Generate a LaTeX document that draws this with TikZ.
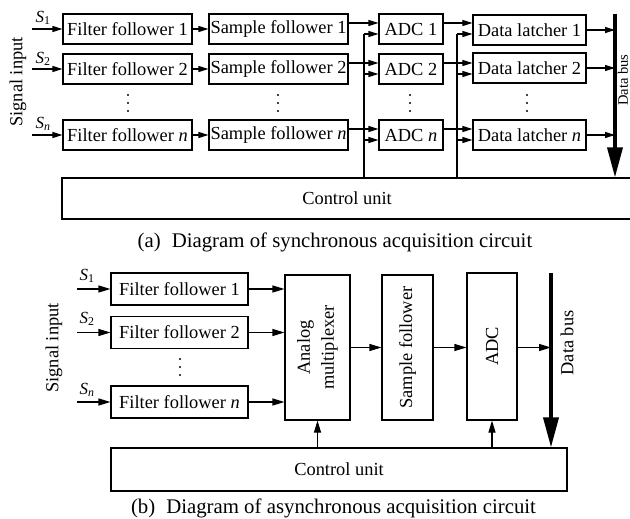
\documentclass[tikz,border=0pt]{standalone}
\usepackage{fontspec}
\setmainfont{Liberation Serif}
\usetikzlibrary{arrows.meta,calc}
\newcommand{\boxfont}{\fontsize{18.4}{24}\selectfont}
\newcommand{\busfont}{\fontsize{14.5}{18}\selectfont}
\newcommand{\capfont}{\fontsize{20.8}{24}\selectfont}
\newcommand{\sfnt}{\fontsize{17}{20}\selectfont}
\begin{document}
\begin{tikzpicture}[x=1pt,y=-1pt,
  box/.style={draw,line width=1.1pt,fill=white,inner sep=0pt,font=\boxfont},
  boxa/.style={box,minimum height=30pt},
  boxb/.style={box,minimum height=32pt},
  lbl/.style={inner sep=0pt,font=\boxfont},
  slbl/.style={inner sep=0pt,font=\sfnt},
  ln/.style={line width=1.1pt},
  arra/.style={ln,-{Triangle[length=10pt,width=6pt]}},
  arrb/.style={ln,-{Triangle[length=12pt,width=7pt]}},
  bus/.style={line width=3.6pt,-{Triangle[length=30pt,width=15pt]}},
  dot/.style={fill=black}
]
\useasboundingbox (0,0) rectangle (630,519);

% ================= (a) =================
\node[lbl,rotate=90] (siga) at (18,82) {Signal input};

\node[slbl] (s1a) at (43,18) {\textit{S}\textsubscript{1}};
\node[slbl] (s2a) at (43,59) {\textit{S}\textsubscript{2}};
\node[slbl] (sna) at (43,124) {\textit{S}\textsubscript{\textit{n}}};

\node[boxa,minimum width=129pt] (f1) at (127.5,29) {Filter follower 1};
\node[boxa,minimum width=129pt] (f2) at (127.5,69) {Filter follower 2};
\node[boxa,minimum width=129pt] (fn) at (127.5,135) {Filter follower \textit{n}};

\node[boxa,minimum width=139pt] (p1) at (278.5,29) {Sample follower 1};
\node[boxa,minimum width=139pt] (p2) at (278.5,69) {Sample follower 2};
\node[boxa,minimum width=139pt] (pn) at (278.5,135) {Sample follower \textit{n}};

\node[boxa,minimum width=64pt] (a1) at (411,29) {ADC 1};
\node[boxa,minimum width=64pt] (a2) at (411,69) {ADC 2};
\node[boxa,minimum width=64pt] (an) at (411,135) {ADC \textit{n}};

\node[boxa,minimum width=113pt] (d1) at (529.5,30) {Data latcher 1};
\node[boxa,minimum width=113pt] (d2) at (529.5,68) {Data latcher 2};
\node[boxa,minimum width=113pt] (dn) at (529.5,135) {Data latcher \textit{n}};

\node[box,minimum width=570pt,minimum height=41pt] (cua) at (347,198.5) {Control unit};

\node[inner sep=0pt,font=\busfont,rotate=90] (dba) at (623,80) {Data bus};

% dots
\foreach \x in {128,278,410,527}{
  \foreach \y in {95,103,111}{ \fill[dot] (\x,\y) circle (1.1pt); }
}

% inputs
\coordinate (i1a) at (32,29);
\coordinate (i2a) at (32,69);
\coordinate (ina) at (32,135);
\draw[arra] (i1a) -- (f1.west);
\draw[arra] (i2a) -- (f2.west);
\draw[arra] (ina) -- (fn.west);

% filter -> sample
\draw[arra] (f1) -- (p1);
\draw[arra] (f2) -- (p2);
\draw[arra] (fn) -- (pn);

% sample -> ADC (upper)
\draw[arra] ([yshift=6pt]p1.east) -- ([yshift=6pt]a1.west);
\draw[arra] ([yshift=6pt]p2.east) -- ([yshift=6pt]a2.west);
\draw[arra] ([yshift=6pt]pn.east) -- ([yshift=6pt]an.west);

% ADC -> latcher (upper)
\draw[arra] ([yshift=6pt]a1.east) -- ([yshift=6pt]a1.east -| d1.west);
\draw[arra] ([yshift=6pt]a2.east) -- ([yshift=6pt]a2.east -| d2.west);
\draw[arra] ([yshift=6pt]an.east) -- ([yshift=6pt]an.east -| dn.west);

% control lines
\coordinate (ca) at (364,34);
\coordinate (cd) at (457,34);
\draw[ln] (ca) -- (ca |- cua.north);
\draw[ln] (cd) -- (cd |- cua.north);
\path ([yshift=-5pt]a1.west) coordinate (a1in) ([yshift=-5pt]a2.west) coordinate (a2in) ([yshift=-5pt]an.west) coordinate (anin);
\draw[arra] (a1in -| ca) -- (a1in);
\draw[arra] (a2in -| ca) -- (a2in);
\draw[arra] (anin -| ca) -- (anin);
\path ([yshift=-5pt]a1.east -| d1.west) coordinate (d1in) ([yshift=-5pt]a2.east -| d2.west) coordinate (d2in) ([yshift=-5pt]an.east -| dn.west) coordinate (dnin);
\draw[arra] (d1in -| cd) -- (d1in);
\draw[arra] (d2in -| cd) -- (d2in);
\draw[arra] (dnin -| cd) -- (dnin);

% data bus (a)
\coordinate (busa) at (615,14);
\draw[arra] (d1.east) -- (d1.east -| busa);
\draw[arra] (d2.east) -- (d2.east -| busa);
\draw[arra] (dn.east) -- (dn.east -| busa);
\draw[bus] (busa) -- (busa |- cua.north);

\node[inner sep=0pt,font=\capfont] (capa) at (335,242) {(a)\hspace{11pt}Diagram of synchronous acquisition circuit};

% ================= (b) =================
\node[lbl,rotate=90] (sigb) at (54,348) {Signal input};

\node[slbl] (s1b) at (87,276) {\textit{S}\textsubscript{1}};
\node[slbl] (s2b) at (87,319) {\textit{S}\textsubscript{2}};
\node[slbl] (snb) at (87,390) {\textit{S}\textsubscript{\textit{n}}};

\node[boxb,minimum width=137pt] (g1) at (179.5,289) {Filter follower 1};
\node[boxb,minimum width=137pt] (g2) at (179.5,332.5) {Filter follower 2};
\node[boxb,minimum width=137pt] (gn) at (179.5,402) {Filter follower \textit{n}};

\foreach \y in {359,367,375}{ \fill[dot] (180,\y) circle (1.1pt); }

\node[box,minimum width=65pt,minimum height=145pt] (mux) at (317.5,347.5) {};
\node[lbl,rotate=90,align=center] (muxt) at (mux.center) {Analog\\multiplexer};
\node[box,minimum width=51pt,minimum height=145pt] (sam) at (407.5,347.5) {};
\node[lbl,rotate=90] (samt) at (sam.center) {Sample follower};
\node[box,minimum width=50pt,minimum height=147pt] (adc) at (492,346.5) {};
\node[lbl,rotate=90] (adct) at (adc.center) {ADC};

\node[box,minimum width=456pt,minimum height=43pt] (cub) at (339,469.5) {Control unit};

\node[lbl,rotate=90] (dbb) at (567,343) {Data bus};

\coordinate (i1b) at (77,289);
\coordinate (i2b) at (77,332.5);
\coordinate (inb) at (77,402);
\draw[arrb] (i1b) -- (g1.west);
\draw[arrb] (i2b) -- (g2.west);
\draw[arrb] (inb) -- (gn.west);

\draw[arrb] (g1.east) -- (g1.east -| mux.west);
\draw[arrb] (g2.east) -- (g2.east -| mux.west);
\draw[arrb] (gn.east) -- (gn.east -| mux.west);

\draw[arrb] (mux.east) -- (sam.west);
\draw[arrb] (sam.east) -- (sam.east -| adc.west);

\coordinate (busb) at (551,273);
\draw[arrb] (sam.east -| adc.east) -- (sam.east -| busb);
\draw[bus] (busb) -- (busb |- cub.north);

\draw[arrb] (cub.north -| mux.south) -- (mux.south);
\draw[arrb] (cub.north -| adc.south) -- (adc.south);

\node[inner sep=0pt,font=\capfont] (capb) at (333.5,508) {(b)\hspace{11pt}Diagram of asynchronous acquisition circuit};
\end{tikzpicture}
\end{document}
